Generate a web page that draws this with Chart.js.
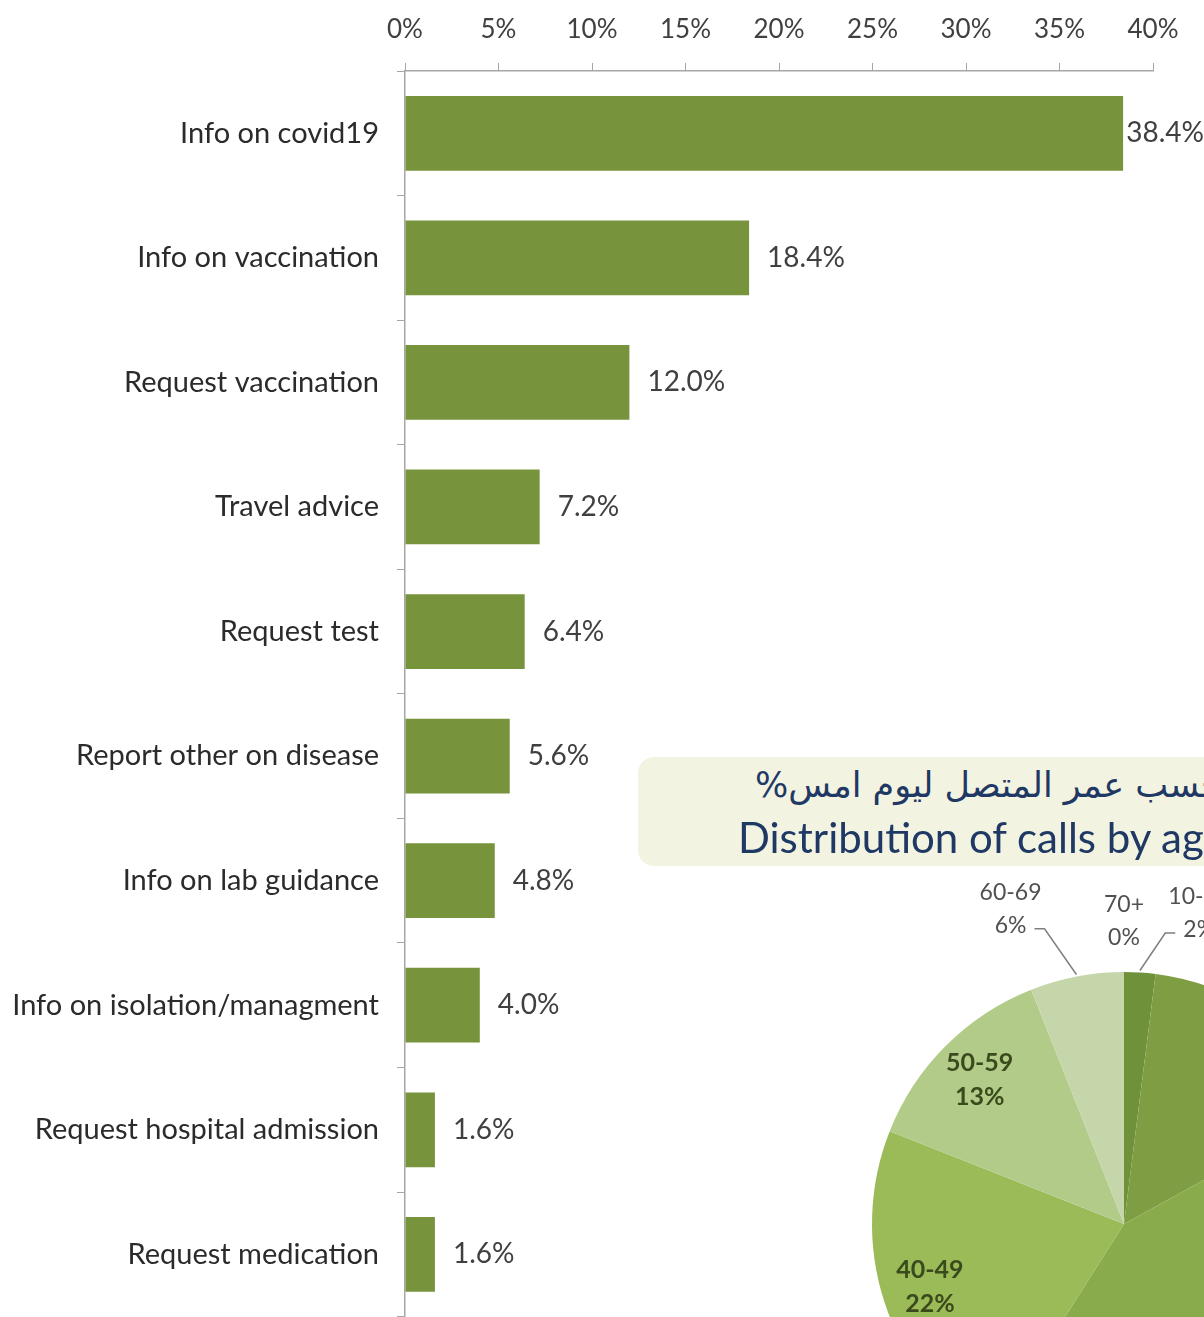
<!DOCTYPE html>
<html>
<head>
<meta charset="utf-8">
<script src="https://cdn.jsdelivr.net/npm/chart.js@4.4.1/dist/chart.umd.min.js"></script>
<style>
    html, body { margin: 0; padding: 0; background: #ffffff; overflow: hidden; }
    #page { position: relative; width: 1204px; height: 1317px; overflow: hidden; background: #ffffff; }
    #barWrap { position: absolute; left: 0; top: 0; width: 1204px; height: 1352px; }
    #titleBox { position: absolute; left: 638px; top: 757px; width: 760px; height: 109px;
        background: #f3f3e2; border-radius: 16px; white-space: nowrap; overflow: hidden; }
    #titleAr { position: absolute; left: 117px; top: 8px; font-family: "DejaVu Sans", sans-serif;
        font-size: 35px; color: #1f3864; }
    #titleEn { position: absolute; left: 100px; top: 55px; font-family: Lato, sans-serif;
        font-size: 42px; color: #1f3864; }
    #pieWrap { position: absolute; left: 774px; top: 874px; width: 700px; height: 700px; }
</style>
</head>
<body>
<div id="page">
    <div id="barWrap"><canvas id="barChart" width="1204" height="1352"></canvas></div>
    <div id="titleBox">
        <span id="titleAr" dir="rtl">توزيع المكالمات حسب عمر المتصل ليوم امس%</span>
        <span id="titleEn">Distribution of calls by age group</span>
    </div>
    <div id="pieWrap"><canvas id="pieChart" width="700" height="700"></canvas></div>
</div>
<script>
// call reasons (bar chart)
const categories = [
    'Info on covid19',
    'Info on vaccination',
    'Request vaccination',
    'Travel advice',
    'Request test',
    'Report other on disease',
    'Info on lab guidance',
    'Info on isolation/managment',
    'Request hospital admission',
    'Request medication'
];
const shares = [38.4, 18.4, 12.0, 7.2, 6.4, 5.6, 4.8, 4.0, 1.6, 1.6];
const xTicks = [0, 5, 10, 15, 20, 25, 30, 35, 40];

// age groups (pie chart)
const ageGroups = ['10-19', '20-29', '30-39', '40-49', '50-59', '60-69', '70+'];
const agePercents = [2, 15, 42, 22, 13, 6, 0];
const ageColors = ['#6f913a', '#7f9e43', '#8aab4c', '#9bbb59', '#b3cb89', '#c6d6ab', '#5f7f2e'];

const barGreen = '#77933c';
const axisGrey = '#a6a6a6';

const barLabels = {
    id: 'barLabels',
    afterDatasetsDraw(chart) {
        const ctx = chart.ctx;
        const meta = chart.getDatasetMeta(0);
        ctx.save();
        ctx.font = '28px Lato, sans-serif';
        ctx.fillStyle = '#404040';
        ctx.textBaseline = 'middle';
        ctx.textAlign = 'left';
        meta.data.forEach((bar, i) => {
            const text = shares[i].toFixed(1) + '%';
            const w = ctx.measureText(text).width;
            const x = Math.min(bar.x + 18, chart.width - w);
            ctx.fillText(text, x, bar.y);
        });
        ctx.restore();
    }
};

new Chart(document.getElementById('barChart'), {
    type: 'bar',
    data: {
        labels: categories,
        datasets: [{
            data: shares,
            backgroundColor: barGreen,
            borderWidth: 0,
            categoryPercentage: 1.0,
            barPercentage: 0.6
        }]
    },
    options: {
        indexAxis: 'y',
        responsive: false,
        animation: false,
        layout: { padding: { top: 0, right: 51, bottom: 0, left: 0 } },
        plugins: {
            legend: { display: false },
            tooltip: { enabled: false }
        },
        scales: {
            x: {
                position: 'top',
                min: 0,
                max: 40,
                afterBuildTicks: (scale) => { scale.ticks = xTicks.map(v => ({ value: v })); },
                afterFit: (scale) => { scale.height = 71; },
                ticks: {
                    callback: (v) => v + '%',
                    font: { family: 'Lato, sans-serif', size: 26 },
                    color: '#404040',
                    padding: 18,
                    maxRotation: 0
                },
                grid: { drawOnChartArea: false, drawTicks: true, tickLength: 8, color: axisGrey },
                border: { display: true, color: axisGrey, width: 1.5 }
            },
            y: {
                afterFit: (scale) => { scale.width = 405; },
                ticks: {
                    font: { family: 'Lato, sans-serif', size: 29 },
                    color: '#2b2b2b',
                    padding: 18
                },
                grid: { drawOnChartArea: false, drawTicks: true, tickLength: 8, color: axisGrey, offset: true },
                border: { display: true, color: axisGrey, width: 1.5 }
            }
        }
    },
    plugins: [barLabels]
});

// pie labels: big slices inside, small ones outside with leader lines
const outsideNudge = [10, 0, 0, 0, 0, -9, 0];
const outsideGap = [68, 60, 60, 60, 60, 83, 51];

const pieLabels = {
    id: 'pieLabels',
    afterDatasetsDraw(chart) {
        const ctx = chart.ctx;
        const meta = chart.getDatasetMeta(0);
        ctx.save();
        ctx.textAlign = 'center';
        ctx.textBaseline = 'middle';
        meta.data.forEach((arc, i) => {
            const mid = (arc.startAngle + arc.endAngle) / 2;
            const r = arc.outerRadius;
            const val = agePercents[i];
            if (val >= 10) {
                const d = r * 0.81;
                const lx = arc.x + Math.cos(mid) * d;
                const ly = arc.y + Math.sin(mid) * d;
                ctx.font = 'bold 25px Lato, sans-serif';
                ctx.fillStyle = '#3a4a1c';
                ctx.fillText(ageGroups[i], lx, ly - 17);
                ctx.fillText(val + '%', lx, ly + 17);
            } else {
                const a = mid + outsideNudge[i] * Math.PI / 180;
                const d = r + outsideGap[i];
                const lx = arc.x + Math.cos(a) * d;
                const ly = arc.y + Math.sin(a) * d;
                ctx.font = '23px Lato, sans-serif';
                ctx.fillStyle = '#505050';
                ctx.fillText(ageGroups[i], lx, ly - 16);
                ctx.fillText(val + '%', lx, ly + 17);
                if (val > 0) {
                    const ex = arc.x + Math.cos(mid) * (r + 2);
                    const ey = arc.y + Math.sin(mid) * (r + 2);
                    const side = ex > lx ? 1 : -1;
                    const sx = lx + side * 24;
                    ctx.strokeStyle = '#7f7f7f';
                    ctx.lineWidth = 1.5;
                    ctx.beginPath();
                    ctx.moveTo(sx, ly + 20);
                    ctx.lineTo(sx + side * 10, ly + 20);
                    ctx.lineTo(ex, ey);
                    ctx.stroke();
                }
            }
        });
        ctx.restore();
    }
};

new Chart(document.getElementById('pieChart'), {
    type: 'pie',
    data: {
        labels: ageGroups,
        datasets: [{
            data: agePercents,
            backgroundColor: ageColors,
            borderWidth: 0
        }]
    },
    options: {
        responsive: false,
        animation: false,
        layout: { padding: 98 },
        plugins: {
            legend: { display: false },
            tooltip: { enabled: false }
        }
    },
    plugins: [pieLabels]
});
</script>
</body>
</html>
